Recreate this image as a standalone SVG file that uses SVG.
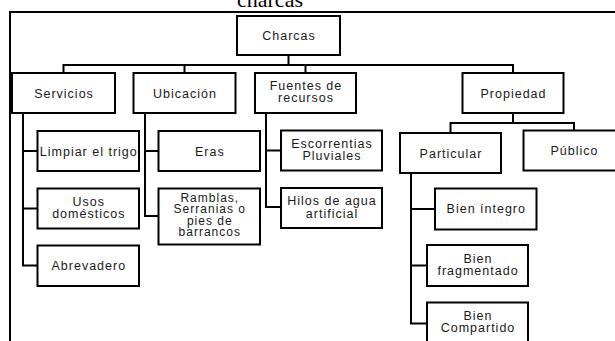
<svg xmlns="http://www.w3.org/2000/svg" width="615" height="341" viewBox="0 0 615 341">
<style>
.b{fill:#fff;stroke:#000;stroke-width:2}
.c{fill:none;stroke:#000;stroke-width:2}
.t{font-family:"Liberation Sans",Arial,sans-serif;font-size:12.5px;letter-spacing:1px;fill:#1a1a1a;text-anchor:middle}
.s{font-size:12px}
.title{font-family:"Liberation Serif","Times New Roman",serif;font-size:22px;fill:#000;text-anchor:middle}
</style>
<rect width="615" height="341" fill="#fff"/>
<text class="title" x="270" y="7">charcas</text>
<path class="c" d="M10,341 V12 H615"/>
<g id="connectors">
<path class="c" d="M288.5,55 V65"/>
<path class="c" d="M63.5,73 V65 H513 V73"/>
<path class="c" d="M184.5,65 V73"/>
<path class="c" d="M305.5,65 V73"/>
<path class="c" d="M23,113 V265.5 H37.5"/>
<path class="c" d="M23,151 H37.5"/>
<path class="c" d="M23,208.5 H37.5"/>
<path class="c" d="M145,113 V216 H158.5"/>
<path class="c" d="M145,151 H158.5"/>
<path class="c" d="M266,113 V207 H281"/>
<path class="c" d="M266,150.5 H281"/>
<path class="c" d="M513,113 V123"/>
<path class="c" d="M450.5,133 V123 H574 V130.5"/>
<path class="c" d="M411,173 V323.5 H427"/>
<path class="c" d="M411,209 H435"/>
<path class="c" d="M411,265.5 H427"/>
</g>
<g id="charcas"><rect class="b" x="237" y="16" width="103" height="39"/><text class="t" x="289" y="40">Charcas</text></g>
<g id="servicios"><rect class="b" x="12" y="73" width="103" height="40"/><text class="t" x="64" y="97.5">Servicios</text></g>
<g id="ubicacion"><rect class="b" x="133.5" y="73" width="102" height="40"/><text class="t" x="185" y="97.5">Ubicación</text></g>
<g id="fuentes"><rect class="b" x="255" y="73" width="101" height="40"/><text class="t" x="306" y="89.5">Fuentes de</text><text class="t" x="306" y="102">recursos</text></g>
<g id="propiedad"><rect class="b" x="462.5" y="73" width="101" height="40"/><text class="t" x="513.5" y="97.5">Propiedad</text></g>
<g id="limpiar"><rect class="b" x="37.5" y="131" width="101.5" height="40"/><text class="t" x="88.8" y="155.5">Limpiar el trigo</text></g>
<g id="usos"><rect class="b" x="37.5" y="188.5" width="101.5" height="40"/><text class="t" x="88.8" y="205.5">Usos</text><text class="t" x="88.8" y="218">domésticos</text></g>
<g id="abrevadero"><rect class="b" x="37.5" y="245.5" width="101.5" height="40.5"/><text class="t" x="88.8" y="270">Abrevadero</text></g>
<g id="eras"><rect class="b" x="158.5" y="131" width="101.5" height="40"/><text class="t" x="209.8" y="155.5">Eras</text></g>
<g id="ramblas"><rect class="b" x="158.5" y="188.5" width="101.5" height="56"/><text class="t s" x="209.8" y="201.5">Ramblas,</text><text class="t s" x="209.8" y="213">Serranias o</text><text class="t s" x="209.8" y="224.5">pies de</text><text class="t s" x="209.8" y="236">barrancos</text></g>
<g id="escorrentias"><rect class="b" x="281" y="130.5" width="101" height="40"/><text class="t" x="332" y="147.5">Escorrentias</text><text class="t" x="332" y="160">Pluviales</text></g>
<g id="hilos"><rect class="b" x="281" y="188" width="101" height="40"/><text class="t" x="332" y="205">Hilos de agua</text><text class="t" x="332" y="217.5">artificial</text></g>
<g id="particular"><rect class="b" x="400" y="133" width="101" height="40"/><text class="t" x="451" y="157.5">Particular</text></g>
<g id="publico"><rect class="b" x="523.5" y="130.5" width="101" height="40"/><text class="t" x="574.5" y="154.5">Público</text></g>
<g id="integro"><rect class="b" x="435" y="188.5" width="101.5" height="41"/><text class="t" x="486.3" y="213">Bien íntegro</text></g>
<g id="fragmentado"><rect class="b" x="427" y="245" width="101" height="41"/><text class="t" x="478" y="262.5">Bien</text><text class="t" x="478" y="274.5">fragmentado</text></g>
<g id="compartido"><rect class="b" x="427" y="302.5" width="101" height="42"/><text class="t" x="478" y="319.5">Bien</text><text class="t" x="478" y="331.8">Compartido</text></g>
</svg>
